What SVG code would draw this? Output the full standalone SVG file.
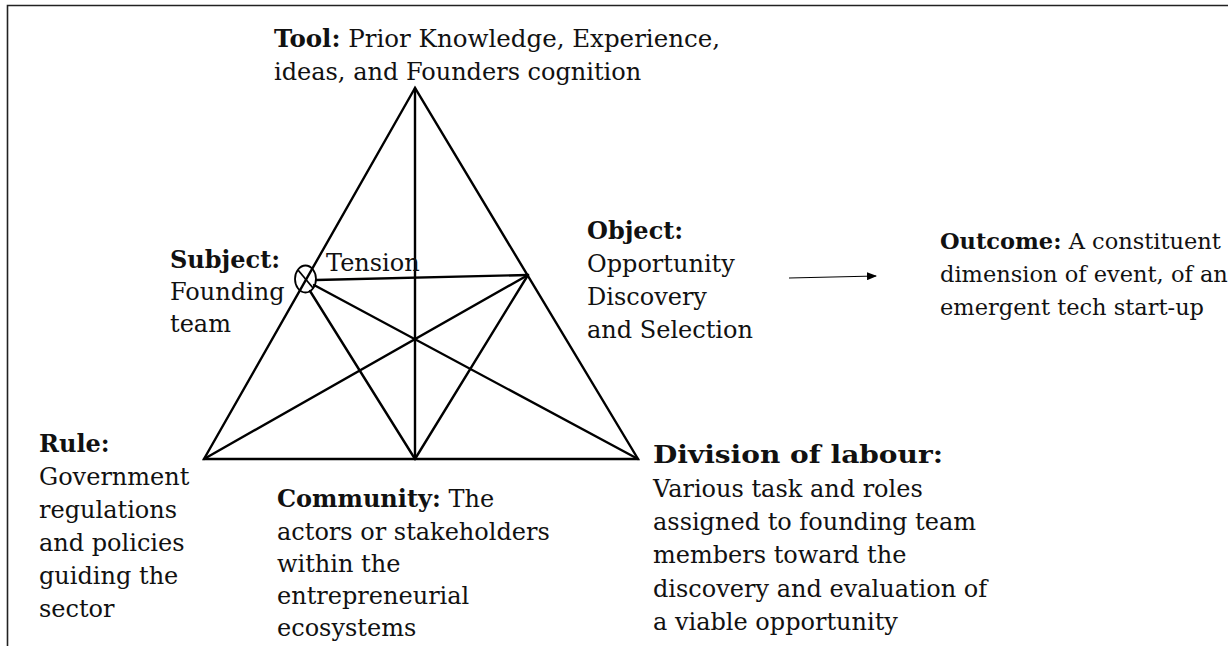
<svg xmlns="http://www.w3.org/2000/svg" width="1228" height="646" viewBox="0 0 1228 646">
<style>
text{font-family:"DejaVu Serif","Liberation Serif",serif;font-size:24px;fill:#111}
.b{font-weight:bold}
.oc{font-size:22.5px}
.ln{stroke:#000;stroke-width:2.4;fill:none;stroke-linecap:round;stroke-linejoin:miter}
.frame{stroke:#222;stroke-width:1.6;fill:none}
</style>
<defs>
<marker id="ah" markerWidth="10" markerHeight="8" refX="9" refY="4" orient="auto" markerUnits="userSpaceOnUse">
<path d="M0,0 L10,4 L0,8 Z" fill="#000"/>
</marker>
</defs>
<rect width="1228" height="646" fill="#fff"/>
<path class="frame" d="M7.5,646 L7.5,5.5 L1228,5.5"/>
<g id="connectors">
<path class="ln" d="M415,88 L204,459 L638,459 Z"/>
<line class="ln" x1="415" y1="88" x2="415" y2="459"/>
<line class="ln" x1="316" y1="280" x2="528" y2="275"/>
<line class="ln" x1="314" y1="285" x2="638" y2="459"/>
<line class="ln" x1="310" y1="291" x2="415" y2="459"/>
<line class="ln" x1="528" y1="275" x2="204" y2="459"/>
<line class="ln" x1="528" y1="275" x2="415" y2="459"/>
<line x1="789" y1="278" x2="876" y2="276" stroke="#000" stroke-width="1.2" marker-end="url(#ah)"/>
</g>
<g id="tension">
<ellipse cx="305.5" cy="279" rx="10.5" ry="13.5" fill="none" stroke="#000" stroke-width="1.8"/>
<line x1="298" y1="270" x2="313" y2="288" stroke="#000" stroke-width="1.8"/>
<text x="326" y="271">Tension</text>
</g>
<g id="tool">
<text x="274" y="47" textLength="446" lengthAdjust="spacingAndGlyphs"><tspan class="b">Tool:</tspan> Prior Knowledge, Experience,</text>
<text x="274" y="80">ideas, and Founders cognition</text>
</g>
<g id="subject">
<text x="170" y="268" class="b">Subject:</text>
<text x="170" y="300">Founding</text>
<text x="170" y="332">team</text>
</g>
<g id="object">
<text x="587" y="239" class="b">Object:</text>
<text x="587" y="272">Opportunity</text>
<text x="587" y="305">Discovery</text>
<text x="587" y="338">and Selection</text>
</g>
<g id="outcome">
<text class="oc" x="940" y="249"><tspan class="b">Outcome:</tspan> A constituent</text>
<text class="oc" x="940" y="282">dimension of event, of an</text>
<text class="oc" x="940" y="315">emergent tech start-up</text>
</g>
<g id="rule">
<text x="39" y="452" class="b">Rule:</text>
<text x="39" y="485">Government</text>
<text x="39" y="518">regulations</text>
<text x="39" y="551">and policies</text>
<text x="39" y="584">guiding the</text>
<text x="39" y="617">sector</text>
</g>
<g id="community">
<text x="277" y="507"><tspan class="b">Community:</tspan> The</text>
<text x="277" y="540">actors or stakeholders</text>
<text x="277" y="572">within the</text>
<text x="277" y="604">entrepreneurial</text>
<text x="277" y="636">ecosystems</text>
</g>
<g id="division">
<text x="653" y="463" class="b" textLength="290" lengthAdjust="spacingAndGlyphs">Division of labour:</text>
<text x="653" y="497">Various task and roles</text>
<text x="653" y="530">assigned to founding  team</text>
<text x="653" y="563">members toward the</text>
<text x="653" y="597">discovery and evaluation of</text>
<text x="653" y="630">a viable opportunity</text>
</g>
</svg>
